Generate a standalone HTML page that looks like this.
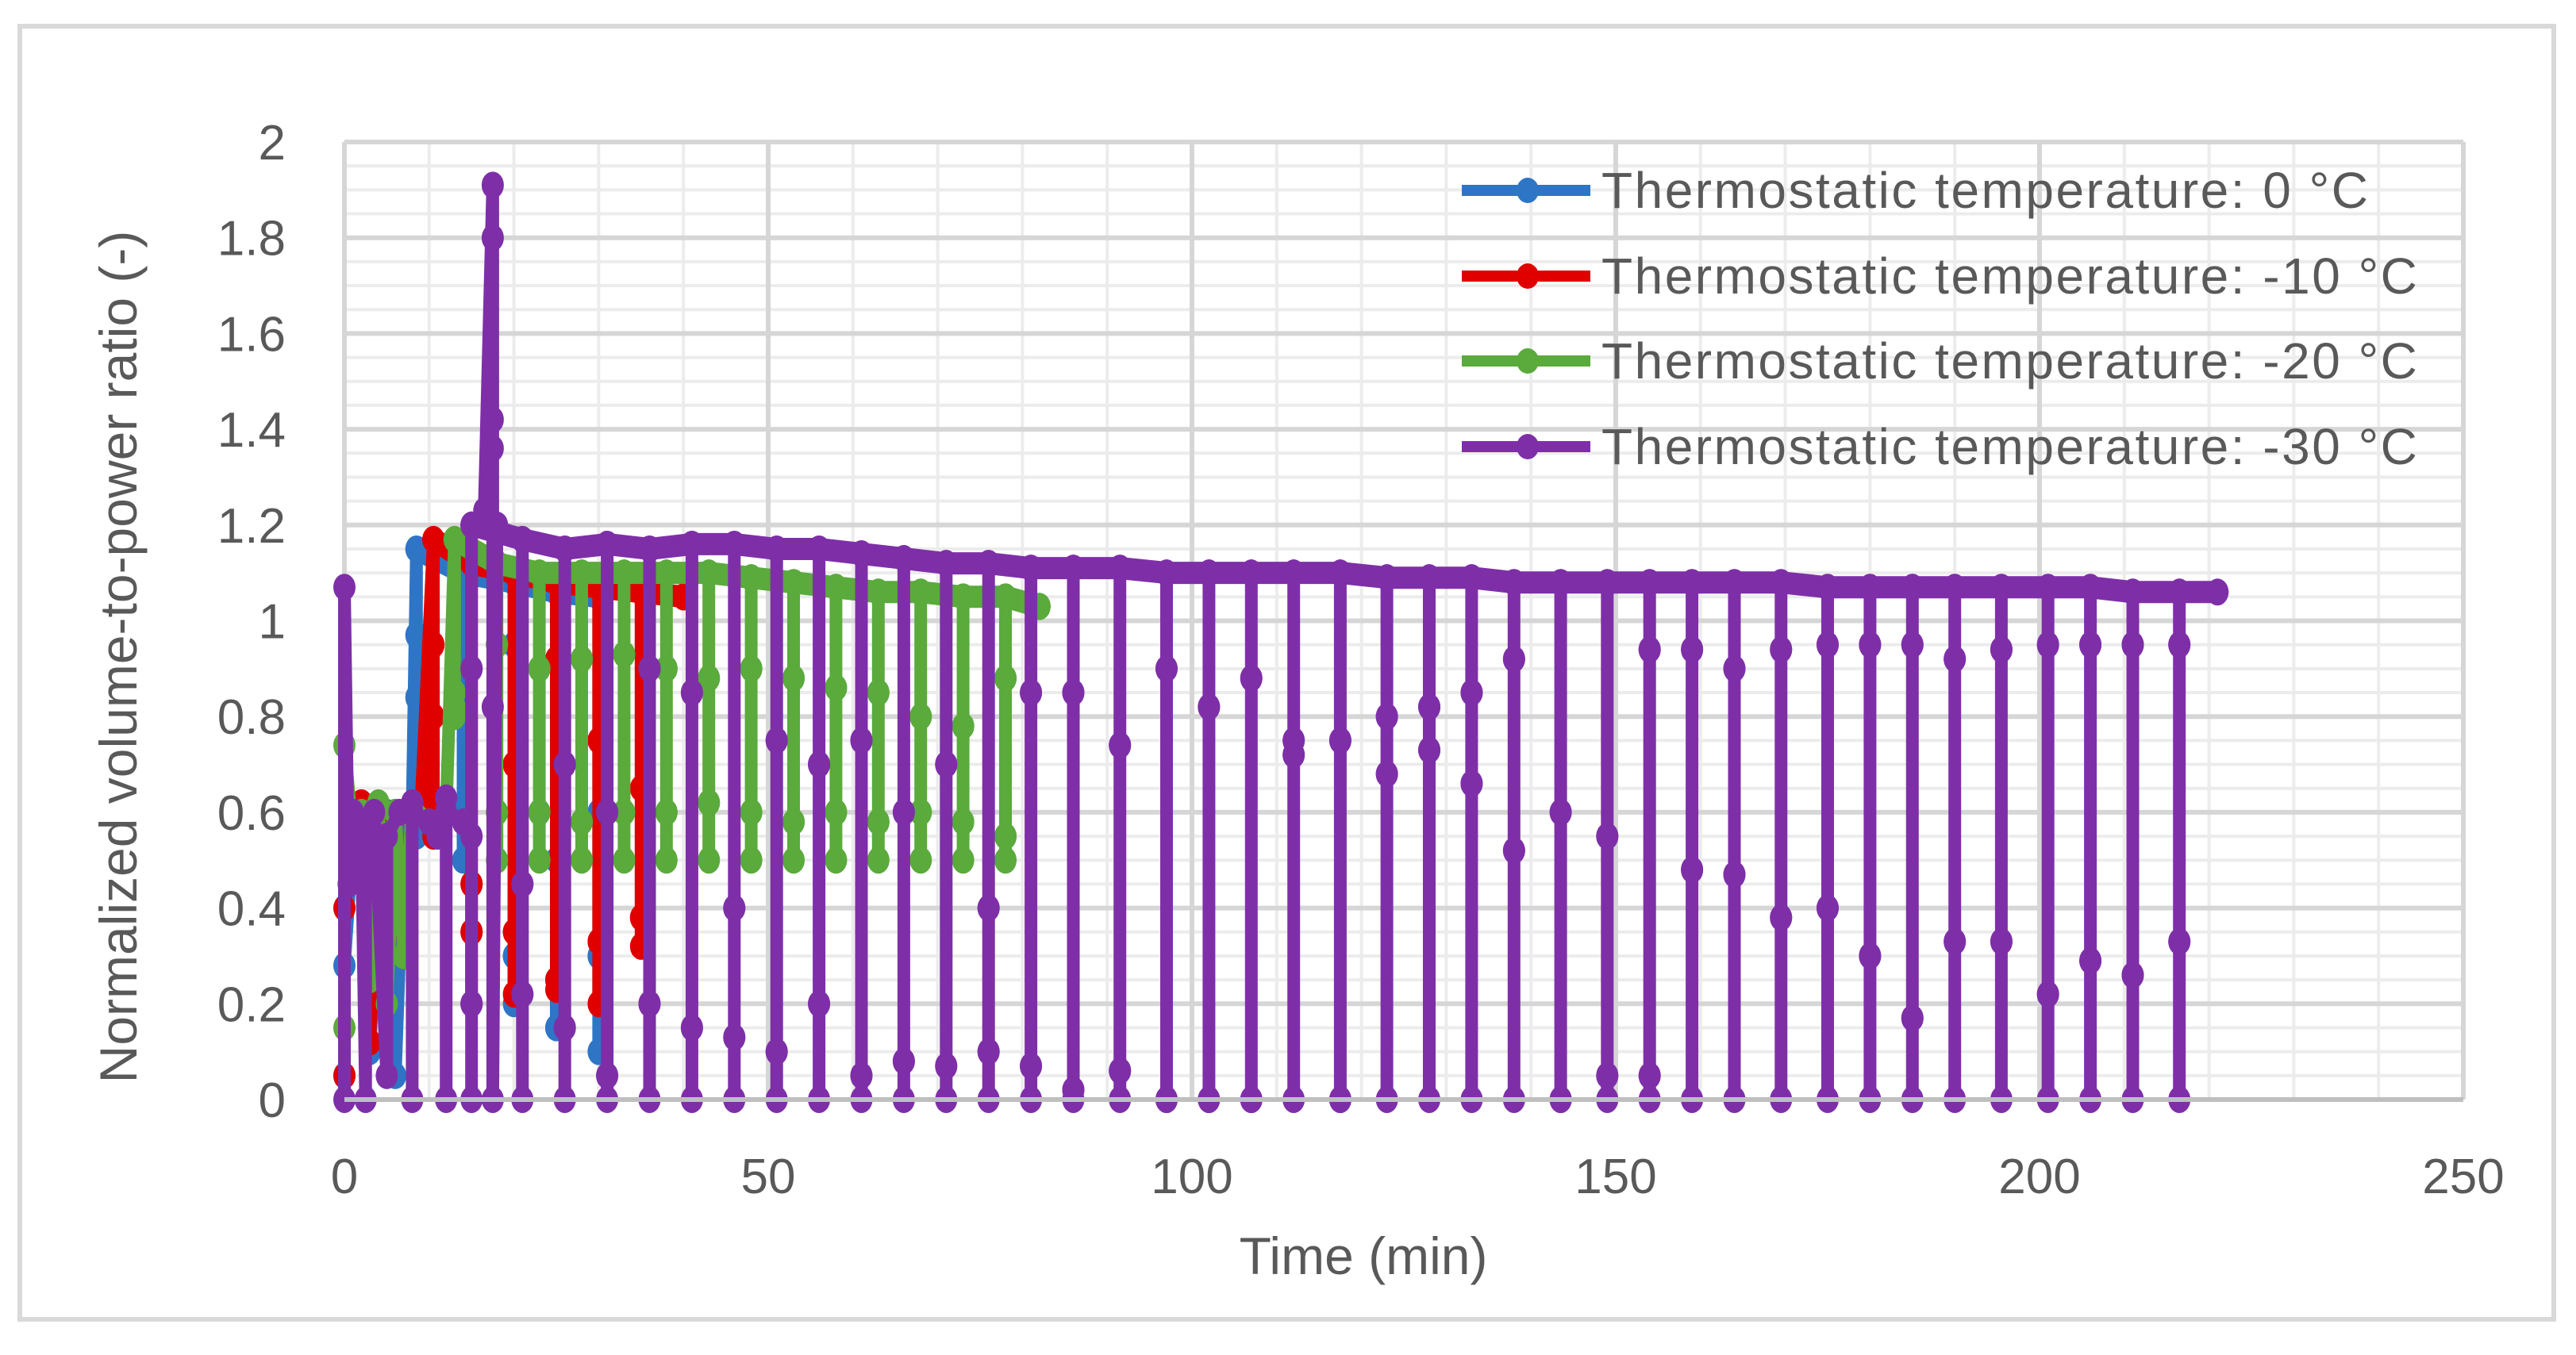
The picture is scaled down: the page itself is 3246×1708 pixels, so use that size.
<!DOCTYPE html>
<html><head><meta charset="utf-8">
<style>
html,body{margin:0;padding:0;background:#fff;}
svg{display:block;font-family:"Liberation Sans",sans-serif;}
</style></head>
<body>
<svg id="chart" width="3246" height="1708" viewBox="0 0 3246 1708">
<rect x="0" y="0" width="3246" height="1708" fill="#fff"/>
<rect x="25" y="33" width="3193" height="1630" fill="#fff" stroke="#d9d9d9" stroke-width="6"/>
<g id="grid"></g>
<g id="series"></g>
<g id="axes"></g>
<text x="172" y="828" transform="rotate(-90 172 828)" text-anchor="middle" font-size="66" fill="#595959">Normalized volume-to-power ratio (-)</text>
<text x="1718" y="1606" text-anchor="middle" font-size="66" fill="#595959">Time (min)</text>
<g id="legend"></g>
</svg>
<script>
const xTicks=[0,50,100,150,200,250];
const yTicks=[0,0.2,0.4,0.6,0.8,1,1.2,1.4,1.6,1.8,2];
const yTickLabels=["0","0.2","0.4","0.6","0.8","1","1.2","1.4","1.6","1.8","2"];
const seriesNames=["Thermostatic temperature: 0 °C","Thermostatic temperature: -10 °C","Thermostatic temperature: -20 °C","Thermostatic temperature: -30 °C"];
const seriesColors=["#2e75c6","#e00000","#5aaa3c","#7e2fa8"];

const blueEarly=[[0,0.05],[0,0.28],[1,0.55],[2,0.6],[3,0.1],[4,0.45],[5,0.6],[6,0.05],[7,0.55],[8,0.6]];
const blueTimes=[8.5,14,20,25,30];
const blueTop=[1.15,1.1,1.08,1.06,1.05];
const blueMid1=[0.97,0.9,0.95,0.5,0.6];
const blueMid2=[0.84,0.6,0.3,0.15,0.3];
const blueLow=[0.55,0.5,0.2,0.15,0.1];

const redEarly=[[0,0.05],[0,0.4],[1,0.58],[2,0.62],[3,0.12],[4,0.6],[5,0.35],[6,0.6],[7,0.3],[8,0.62],[9,0.6]];
const redTimes=[10.5,15,20,25,30,35,40];
const redTop=[1.17,1.12,1.1,1.08,1.07,1.06,1.05];
const redMid1=[0.95,0.45,0.7,0.92,0.75,0.65,1.05];
const redMid2=[0.8,0.35,0.35,0.25,0.33,0.38,1.05];
const redLow=[0.55,0.2,0.22,0.23,0.2,0.32,1.05];

const greenEarly=[[0,0.15],[0,0.74],[1,0.55],[2,0.6],[3,0.25],[4,0.62],[5,0.2],[6,0.6],[7,0.3],[8,0.62],[10,0.58],[12,0.6]];
const greenTimes=[13,18,23,28,33,38,43,48,53,58,63,68,73,78,82];
const greenTop=[1.17,1.12,1.1,1.1,1.1,1.1,1.1,1.09,1.08,1.07,1.06,1.06,1.05,1.05,1.03];
const greenMid1=[0.85,0.95,0.9,0.92,0.93,0.9,0.88,0.9,0.88,0.86,0.85,0.8,0.78,0.88,1.03];
const greenMid2=[0.82,0.6,0.6,0.58,0.6,0.6,0.62,0.6,0.58,0.6,0.58,0.6,0.58,0.55,1.03];
const greenLow=[0.8,0.5,0.5,0.5,0.5,0.5,0.5,0.5,0.5,0.5,0.5,0.5,0.5,0.5,1.03];

const purpleEarly=[[0,0],[0,1.07],[0.5,0.45],[1,0.6],[2,0.55],[2.5,0],[2.5,0.58],[3.5,0.6],[5,0.05],[5,0.55],[6.5,0.6],[8,0.62],[8,0],[8,0.6],[10,0.58],[11,0.55],[12,0.63],[12,0],[12,0.6],[14,0.58],[15,0.55],[15,1.2],[16.5,1.23],[17.5,1.91],[17.5,1.8],[17.5,1.42],[17.5,1.36],[17.5,0.82],[17.5,0],[18,1.2]];
const purpleTimes=[15,21,26,31,36,41,46,51,56,61,66,71,76,81,86,91.5,97,102,107,112,117.5,123,128,133,138,143.5,149,154,159,164,169.5,175,180,185,190,195.5,201,206,211,216.5];
const purpleTop=[1.2,1.17,1.15,1.16,1.15,1.16,1.16,1.15,1.15,1.14,1.13,1.12,1.12,1.11,1.11,1.11,1.1,1.1,1.1,1.1,1.1,1.09,1.09,1.09,1.08,1.08,1.08,1.08,1.08,1.08,1.08,1.07,1.07,1.07,1.07,1.07,1.07,1.07,1.06,1.06];
const purpleMid1=[0.9,0.45,0.7,0.6,0.9,0.85,0.4,0.75,0.7,0.75,0.6,0.7,0.4,0.85,0.85,0.74,0.9,0.82,0.88,0.75,0.75,0.8,0.73,0.85,0.92,0.6,0.55,0.94,0.94,0.9,0.94,0.95,0.95,0.95,0.92,0.94,0.95,0.95,0.95,0.95];
const purpleMid2=[0.2,0.22,0.15,0.05,0.2,0.15,0.13,0.1,0.2,0.05,0.08,0.07,0.1,0.07,0.02,0.06,0,0,0,0.72,0,0.68,0.82,0.66,0.52,0,0.05,0.05,0.48,0.47,0.38,0.4,0.3,0.17,0.33,0.33,0.22,0.29,0.26,0.33];
const purpleLow=[0,0,0,0,0,0,0,0,0,0,0,0,0,0,0,0,0,0,0,0,0,0,0,0,0,0,0,0,0,0,0,0,0,0,0,0,0,0,0,0];
const purpleEnd=[[221,1.06]];

const X0=434,X1=3104,Y0=1386,Y1=179;
function X(t){return X0+(t/250)*(X1-X0);}
function Y(v){return Y0-(v/2)*(Y0-Y1);}
const NS="http://www.w3.org/2000/svg";
function mk(tag,attrs,parent){const e=document.createElementNS(NS,tag);for(const k in attrs)e.setAttribute(k,attrs[k]);parent.appendChild(e);return e;}

const grid=document.getElementById('grid');
for(let v=0;v<=2.0001;v+=0.05){
  const l=mk('line',{x1:X0,x2:X1,y1:Y(v),y2:Y(v),stroke:'#ececec','stroke-width':4},grid);
  
  
}
for(let t=0;t<=250;t+=10){
  const l=mk('line',{x1:X(t),x2:X(t),y1:Y1,y2:Y0,stroke:'#ececec','stroke-width':4},grid);
  
  
}
yTicks.forEach(v=>{
  const l=mk('line',{x1:X0,x2:X1,y1:Y(v),y2:Y(v),stroke:'#d6d6d6','stroke-width':6},grid);
  
  
});
xTicks.forEach(t=>{
  const l=mk('line',{x1:X(t),x2:X(t),y1:Y1,y2:Y0,stroke:'#d6d6d6','stroke-width':6},grid);
  
  
});

function buildPoints(early,times,top,m1,m2,low,end){
  const pts=early.slice();
  for(let i=0;i<times.length;i++){
    const t=times[i];
    pts.push([t,top[i]],[t,m1[i]],[t,m2[i]],[t,low[i]],[t,m2[i]],[t,m1[i]],[t,top[i]]);
  }
  if(end) end.forEach(p=>pts.push(p));
  return pts;
}
const tops=[[blueTimes,blueTop],[redTimes,redTop],[greenTimes,greenTop],[purpleTimes,purpleTop]];
const allSeries=[
  buildPoints(blueEarly,blueTimes,blueTop,blueMid1,blueMid2,blueLow),
  buildPoints(redEarly,redTimes,redTop,redMid1,redMid2,redLow),
  buildPoints(greenEarly,greenTimes,greenTop,greenMid1,greenMid2,greenLow),
  buildPoints(purpleEarly,purpleTimes,purpleTop,purpleMid1,purpleMid2,purpleLow,purpleEnd)
];
const sg=document.getElementById('series');
const sNames=['series-0c','series-minus10c','series-minus20c','series-minus30c'];
allSeries.forEach((pts,si)=>{
  const g=mk('g',{},sg);
  
  
  const d=pts.map((p,i)=>(i?'L':'M')+X(p[0]).toFixed(1)+' '+Y(p[1]).toFixed(1)).join(' ');
  const path=mk('path',{d:d,fill:'none',stroke:seriesColors[si],'stroke-width':16,'stroke-linejoin':'round','stroke-linecap':'round'},g);
  
  
  const tt=tops[si][0],tv=tops[si][1];
  let td=tt.map((t,i)=>(i?'L':'M')+X(t).toFixed(1)+' '+Y(tv[i]).toFixed(1)).join(' ');
  if(si===3) purpleEnd.forEach(p=>{td+=' L'+X(p[0]).toFixed(1)+' '+Y(p[1]).toFixed(1);});
  const band=mk('path',{d:td,fill:'none',stroke:seriesColors[si],'stroke-width':28,'stroke-linejoin':'round','stroke-linecap':'round'},g);
  
  
  pts.forEach(p=>{
    const c=mk('ellipse',{cx:X(p[0]),cy:Y(p[1]),rx:14,ry:17,fill:seriesColors[si]},g);
    
    
  });
});

const axes=document.getElementById('axes');
const ax=mk('line',{x1:X0,x2:X1,y1:Y0,y2:Y0,stroke:'#bfbfbf','stroke-width':6},axes);


xTicks.forEach(t=>{
  const tx=mk('text',{x:X(t),y:1504,'text-anchor':'middle','font-size':62,fill:'#595959'},axes);
  tx.textContent=String(t);
  
  
});
yTicks.forEach((v,i)=>{
  const tx=mk('text',{x:360,y:Y(v)+22,'text-anchor':'end','font-size':62,fill:'#595959'},axes);
  tx.textContent=yTickLabels[i];
  
  
});

const lg=document.getElementById('legend');
const legendY=[240,348,455,563];
seriesNames.forEach((n,i)=>{
  const g=mk('g',{},lg);
  
  
  mk('line',{x1:1842,x2:2004,y1:legendY[i],y2:legendY[i],stroke:seriesColors[i],'stroke-width':14},g);
  mk('ellipse',{cx:1925,cy:legendY[i],rx:14,ry:16,fill:seriesColors[i]},g);
  const t=mk('text',{x:2018,y:legendY[i]+22,'font-size':64,'letter-spacing':2.5,fill:'#595959'},g);
  t.textContent=n;
  
  
});
</script>
</body></html>
